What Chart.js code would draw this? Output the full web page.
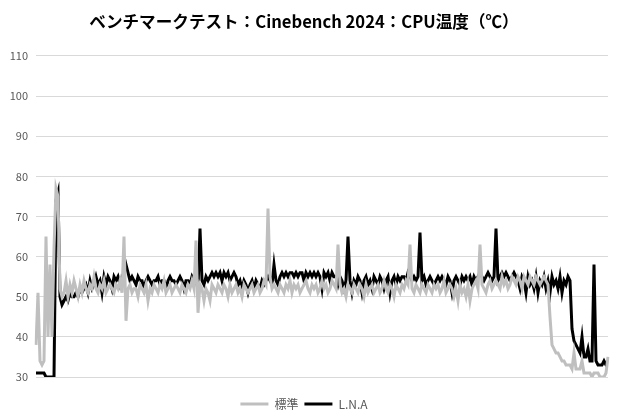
<!DOCTYPE html>
<html>
<head>
<meta charset="utf-8">
<script src="https://cdn.jsdelivr.net/npm/chart.js@4"></script>
<style>
  body { margin: 0; background: #fff; }
</style>
</head>
<body>
<canvas id="myChart" width="620" height="420"></canvas>
<script>
// 標準 (gray) - CPU temperature, one value per sample
const std = [
  38,51,34,33,34,65,40,58,40,62,
  77,75,52,50,51,54,50,53,51,54,
  52,50,53,51,54,52,51,53,52,55,
  52,51,53,52,54,51,52,53,52,51,
  53,52,54,51,65,44,52,53,51,52,
  52,50,53,52,51,53,49,52,51,53,
  52,51,53,52,54,51,52,53,51,52,
  53,52,51,53,52,51,53,52,54,52,
  64,46,53,52,49,52,51,49,53,52,
  51,53,52,51,53,52,50,53,51,52,
  53,51,52,50,53,52,51,52,53,51,
  52,53,51,52,54,53,72,55,52,53,
  52,51,53,52,51,53,52,54,51,53,
  52,53,51,52,53,54,52,51,53,52,
  53,51,52,54,52,53,51,52,54,53,
  52,63,53,51,52,50,53,52,51,53,
  52,51,53,52,50,53,51,52,53,51,
  52,53,51,52,54,52,51,53,52,50,
  53,52,51,53,52,54,53,63,52,51,
  53,52,51,53,52,51,53,52,51,53,
  52,53,51,52,54,51,52,53,52,50,
  52,49,53,51,52,50,53,49,52,53,
  54,52,63,53,52,51,53,54,52,53,
  54,53,52,55,53,54,52,53,55,54,
  53,55,54,52,55,54,53,55,54,53,
  55,54,53,54,55,54,53,45,38,37,
  36,36,35,34,34,33,33,33,32,36,
  32,32,32,34,31,31,31,31,30,31,
  31,31,30,30,30,31,35
];

// L.N.A (black)
const lna = [
  31,31,31,31,31,30,30,30,30,30,
  74,76,50,48,49,50,49,51,50,50,
  51,50,52,51,52,53,51,54,52,53,
  55,53,54,51,55,53,55,54,52,55,
  54,55,53,55,56,58,56,54,55,54,
  53,55,54,54,52,54,55,54,53,54,
  54,55,53,54,54,52,54,55,54,54,
  53,54,55,54,52,54,54,53,55,54,
  54,52,67,54,53,55,54,55,56,55,
  56,55,56,54,56,55,56,54,55,56,
  55,53,54,52,54,53,51,53,54,52,
  54,53,52,54,53,54,55,54,53,58,
  54,53,55,56,55,56,55,56,56,55,
  56,55,56,56,54,56,55,56,55,56,
  55,56,55,52,56,55,56,54,56,55,
  55,53,55,54,52,54,65,54,51,54,
  53,55,54,51,54,55,53,54,52,55,
  54,53,55,54,52,54,55,51,54,55,
  53,55,54,55,55,54,56,55,54,55,
  54,55,66,54,55,53,54,55,54,53,
  54,55,54,55,54,53,55,54,51,54,
  55,54,53,55,54,55,54,55,53,55,
  54,55,56,55,54,55,56,55,54,55,
  67,54,55,56,55,56,55,54,55,56,
  55,54,52,55,54,51,55,53,54,52,
  55,51,54,53,55,52,54,51,55,53,
  54,52,55,51,54,53,55,54,42,39,
  38,37,36,40,35,35,37,34,34,58,
  34,33,33,33,34,33,33
];

const yMin = 30;
const yMax = 110;
const yStep = 10;

const labels = std.map((v, i) => i + 1);

const fontJP = "'Noto Sans CJK JP', 'Noto Sans', sans-serif";

let data = {
    labels: labels,
    datasets: [{
        label: '標準',
        data: std,
        borderColor: '#bfbfbf',
        backgroundColor: '#bfbfbf',
        borderWidth: 3,
        pointRadius: 0,
        tension: 0
    },
    {
        label: 'L.N.A',
        data: lna,
        borderColor: '#000000',
        backgroundColor: '#000000',
        borderWidth: 3,
        pointRadius: 0,
        tension: 0
    }]
}

let config = {
    type: 'line',
    data,
    options: {
        responsive: false,
        animation: false,
        layout: {
            padding: { left: 0, right: 12, top: 0, bottom: 0 }
        },
        plugins: {
            title: {
                display: true,
                text: 'ベンチマークテスト：Cinebench 2024：CPU温度（℃）',
                color: '#000',
                font: { family: fontJP, size: 16.6, weight: 'bold' },
                padding: { top: 12, bottom: 24 }
            },
            legend: {
                position: 'bottom',
                labels: {
                    usePointStyle: true,
                    pointStyle: 'line',
                    pointStyleWidth: 28,
                    color: '#595959',
                    font: { family: fontJP, size: 12 },
                    padding: 6
                }
            },
            tooltip: { enabled: false }
        },
        scales: {
            x: {
                display: true,
                ticks: { display: false },
                grid: { display: false },
                border: { display: false },
                afterFit: function(scale) { scale.height = 15; }
            },
            y: {
                min: yMin,
                max: yMax,
                ticks: {
                    stepSize: yStep,
                    color: '#595959',
                    font: { family: fontJP, size: 11 },
                    padding: 8
                },
                grid: { color: '#d9d9d9', drawTicks: false },
                border: { display: false },
                afterFit: function(scale) { scale.width = 36; }
            }
        }
    }
}

let myChart = new Chart(document.getElementById('myChart'), config);
</script>
</body>
</html>
